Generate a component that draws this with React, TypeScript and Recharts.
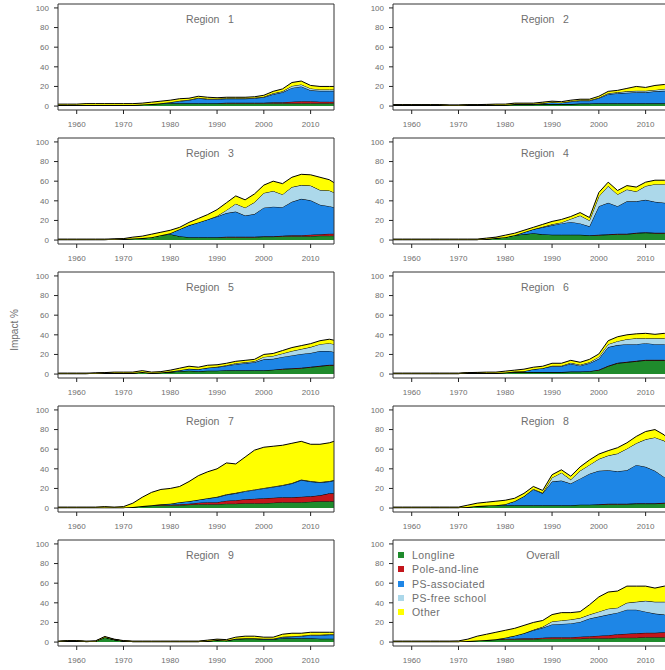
import React from 'react';
import { AreaChart, Area, XAxis, YAxis, ReferenceArea } from 'recharts';

const YEARS = [1956, 1958, 1960, 1962, 1964, 1966, 1968, 1970, 1972, 1974, 1976, 1978, 1980, 1982, 1984, 1986, 1988, 1990, 1992, 1994, 1996, 1998, 2000, 2002, 2004, 2006, 2008, 2010, 2012, 2014, 2015];
const X_TICKS = [1960, 1970, 1980, 1990, 2000, 2010];
const Y_TICKS = [0, 20, 40, 60, 80, 100];
const SERIES_NAMES = ['Longline', 'Pole-and-line', 'PS-associated', 'PS-free school', 'Other'];
const SERIES_COLORS = ['#1f8b2c', '#c3161c', '#1e86e6', '#acd8ea', '#ffff00'];

// Region 1
const r1Longline = [1,1,1,1,1,1,1,1,1,1.5,2,2.5,3,3,3,3,3,3,3,3,3,3,3,3,3,3,3,3,3,3,3];
const r1Pole = [0,0,0,0,0,0,0,0,0,0,0,0,0,0,0,0,0,0,0.5,0.5,0.5,0.5,0.5,1,1,1.5,2,2,1.5,1.5,1.5];
const r1PSA = [0,0,0,0,0,0,0,0,0,0,0,0.5,1,2,3,5,4,4,4,4,4,4.5,5.5,8,10,14,15,11,11,11,11];
const r1PSF = [0,0,0,0,0,0,0,0,0,0,0,0,0,0.5,0.5,0.5,0.5,0.5,0.5,0.5,0.5,0.5,0.5,1,1,2,2,2,1.5,1.5,1.5];
const r1Other = [1,1,1,1.5,1.5,1.5,1.5,1.5,1.5,1.5,2,2,2,2,1.5,1.5,1.5,1,1,1,1,1,1.5,2,2.5,3.5,3.5,3,3,3,3];

// Region 2
const r2Longline = [1,1,1,1,1,1,0.7,0.7,1,1,1,1.2,1.2,1.5,1.5,1.5,2,2,2,2,2.5,2.5,3,3,3,3,3,3,3,3,3];
const r2Pole = [0,0,0,0,0,0,0,0,0,0,0,0,0,0,0,0,0,0,0,0,0,0,0,0,0,0,0,0,0,0,0];
const r2PSA = [0,0,0,0,0,0,0,0,0,0,0,0,0,0.5,0.5,0.5,1,2,1.5,2.5,3,3,5,9,10,10.5,11,11,12,12.5,13];
const r2PSF = [0,0,0,0,0,0,0,0,0,0,0,0,0,0,0,0,0,0,0,0.5,0.5,0.5,0.5,1,1,1.5,1.5,1.5,1.5,2,2];
const r2Other = [0.5,0.5,0.5,0.5,0.5,0.5,0.3,0.3,0.5,0.5,0.7,0.8,0.8,1,1,1,1,1,1,1,1,1,1.5,2,2,3,4.5,3.5,4.5,4.5,4];

// Region 3
const r3Longline = [0.5,0.5,0.5,0.5,0.5,0.5,0.7,1,1.5,2,3,5,6,4,3,3,3,3,3,3,3,3,3.5,3.5,4,4,4,4,4.5,4.5,4.5];
const r3Pole = [0,0,0,0,0,0,0,0,0,0,0,0,0,0,0,0,0,0,0.5,0.5,0.5,0.5,0.5,0.5,0.5,1,1,1.5,1.5,2,2];
const r3PSA = [0,0,0,0,0,0,0,0,0,0,0,0,1,7,12,15,18,21,24,25.5,21.5,23,29,30,29,34,37,35,30,28,27];
const r3PSF = [0,0,0,0,0,0,0,0,0,0,0,0,0,0,0,0,0,0.5,3,8,8,12,15,16,13,15,14,15,15,16,15];
const r3Other = [0.5,0.5,0.5,0.5,0.5,0.5,0.5,0.5,1.5,2,3,3,3,2,3,4,5,6.5,7.5,8,8,8.5,8,10,11,10,11,11,13,11,10];

// Region 4
const r4Longline = [0.5,0.5,0.5,0.5,0.5,0.5,0.5,0.5,0.5,0.5,1,2,3,5,6,7,6,5.5,5.5,5.5,5.5,5,5,5.5,6,6,7,7.5,7,7,7];
const r4Pole = [0,0,0,0,0,0,0,0,0,0,0,0,0,0,0,0,0,0,0,0,0,0,0.5,0.5,0.5,0.5,0.5,0.5,0.5,0.5,0.5];
const r4PSA = [0,0,0,0,0,0,0,0,0,0,0,0,0,0,2,4,7,9.5,11.5,13,11.5,9,29,32,28,33,32,33,31.5,30.5,30];
const r4PSF = [0,0,0,0,0,0,0,0,0,0,0,0,0,0,0,0,0.5,1,1,3,8,6,10,17,12,12,10,14,18,19,18];
const r4Other = [0.5,0.5,0.5,0.5,0.5,0.5,0.5,0.5,0.5,0.5,1,1,2,2,2,2,2.5,3,3,2.5,3,3,4,4,4,4,4.5,4,4,4,4];

// Region 5
const r5Longline = [0.5,0.5,0.5,0.5,0.7,1,1,1,1,2,1,1.5,2,3,3.5,3,3.5,3.5,4,4,4,4,4,4.5,5,5.5,6,7,8,9,9];
const r5Pole = [0,0,0,0,0,0,0,0,0,0,0,0,0,0,0,0,0,0,0,0,0,0,0,0,0.5,0.5,0.5,0.5,0.5,0.5,0.5];
const r5PSA = [0,0,0,0,0,0,0,0,0,0,0,0,0.5,1,2,2,3,3.5,4.5,6,7,8,11,11,12,13,14,14,15,14,13];
const r5PSF = [0,0,0,0,0,0,0,0,0,0,0,0,0,0,0,0,0,0.5,0.5,1,1,1,2.5,3,3.5,4.5,5,6,7,8,8];
const r5Other = [0.5,0.5,0.5,0.5,0.5,0.5,1,1,1,1.5,1,1,1.5,2,2.5,2,2.5,2,2,2,2,2,2.5,2.5,3,3.5,3.5,3.5,3.5,4,4];

// Region 6
const r6Longline = [0.5,0.5,0.5,0.5,0.5,0.5,0.5,0.5,1,1,1,1,1.5,2,2,2,2,2,2,2.5,2.5,3,4,8,11,12,13,14,14,14,13];
const r6Pole = [0,0,0,0,0,0,0,0,0,0,0,0,0,0,0,0,0,0,0,0,0,0,0.5,0.5,0.5,0.5,0.5,0.5,0.5,0.5,0.5];
const r6PSA = [0,0,0,0,0,0,0,0,0,0,0,0,0,0.5,1,3,4,6,6,8,6,8,11,19,18,18,17,17,16,16,15];
const r6PSF = [0,0,0,0,0,0,0,0,0,0,0,0,0,0,0,0,0,0.5,0.5,1,1,1,2,3,4,5,6,5,6,6,6];
const r6Other = [0.5,0.5,0.5,0.5,0.5,0.5,0.5,0.5,0.5,0.7,1,1,1.5,1.5,2,2,2,2.5,2.5,2.5,2.5,3,3,3.5,4.5,4.5,4.5,5,4,5,4];

// Region 7
const r7Longline = [0.5,0.5,0.5,0.5,0.5,0.5,0.5,0.5,1,2,2.5,3,3,3,3.5,4,4,4,4.5,4.5,5,5,5,5.5,6,6,6,6.5,7,7,7];
const r7Pole = [0,0,0,0,0,0,0,0,0,0,0,0.5,0.5,1,1,1.5,2,2,3,3.5,4,4.5,5,5,5,5,5.5,5.5,6,8,8];
const r7PSA = [0,0,0,0,0,0,0,0,0,0,0.5,0.5,1,2,2.5,3,4,5,6,7,8,9,10,11,12,14,17,15,13,12,13];
const r7PSF = [0,0,0,0,0,0,0,0,0,0,0,0,0,0,0,0,0,0.5,0.5,0.5,0.5,0.5,0.5,0.5,0.5,0.5,0.5,0.5,0.5,0.5,0.5];
const r7Other = [0.5,0.5,0.5,0.5,0.5,1,0.5,1,4,9,13,15,15.5,16,20,24.5,27,28.5,32,29.5,34.5,40,41.5,41,40.5,40.5,39,37.5,38.5,39,39.5];

// Region 8
const r8Longline = [0.5,0.5,0.5,0.5,0.5,0.5,0.5,0.5,1,2,2.5,3,3,3,3,3,3,3,3,3,3.5,3.5,3.5,4,4,4,4.5,4.5,4.5,5,5];
const r8Pole = [0,0,0,0,0,0,0,0,0,0,0,0,0,0,0,0,0,0,0,0,0,0,0.5,0.5,0.5,0.5,0.5,0.5,0.5,0.5,0.5];
const r8PSA = [0,0,0,0,0,0,0,0,0,0,0,0,1,4,9,16,12,24,25,22,26.5,31.5,34,34,33,34,39,37,33,26,23];
const r8PSF = [0,0,0,0,0,0,0,0,0,0,0,0,0,0,0,0.5,0.5,4,8,4,8,9,12,15,18,22,22,28,34,37,34];
const r8Other = [0.5,0.5,0.5,0.5,0.5,0.5,0.5,0.5,2,3,3.5,4,4,3,3,2.5,2.5,3,3,3.5,4,5,5,5,6,6,7,8,8,6,6];

// Region 9
const r9Longline = [0.5,1,1,0.5,0.7,5,2.5,1,0.5,0.5,0.5,0.5,0.5,0.5,0.5,0.5,1,2,1.5,3,3.5,3.5,3,3,4,4,4,4,3.5,3.5,3.5];
const r9Pole = [0,0,0,0,0,0,0,0,0,0,0,0,0,0,0,0,0,0,0,0,0,0,0,0,0,0,0,0,0,0,0];
const r9PSA = [0,0,0,0,0,0,0,0,0,0,0,0,0,0,0,0,0,0,0,0.5,0.5,0.5,0.5,0.5,1,1.5,2,3,3.5,4,4];
const r9PSF = [0,0,0,0,0,0,0,0,0,0,0,0,0,0,0,0,0,0,0,0,0,0,0,0,0.5,0.5,0.5,0.5,0.5,0.5,0.5];
const r9Other = [0.5,0.5,0.5,0.5,0.5,0.7,0.5,0.5,0.5,0.5,0.5,0.5,0.5,0.5,0.5,0.5,1,1,1,1.5,2,2,1.5,1.5,2.5,3,2.5,2.5,2.5,2,2];

// Overall
const allLongline = [0.5,0.5,0.5,0.5,0.5,0.5,0.5,0.5,1,1.5,2,2.5,3,3,3,3,3.5,3.5,3.5,3.5,3.5,4,4,4,4.5,4.5,4.5,5,5,5,5];
const allPole = [0,0,0,0,0,0,0,0,0,0,0,0,0.5,0.5,1,1,1,1.5,1.5,1.5,2,2,2.5,3,3.5,4,4.5,4.5,4.5,5,5];
const allPSA = [0,0,0,0,0,0,0,0,0,0,0,0.5,1,3,5,8,10,13,13.5,14,15,18,19.5,21,22,24.5,24,21.5,19.5,18,17];
const allPSF = [0,0,0,0,0,0,0,0,0,0,0,0,0,0,0,0.5,1,3,3.5,4,4,4,5,6,5,7,8,11,12,13,14];
const allOther = [0.5,0.5,0.5,0.5,0.5,0.5,0.5,0.7,2,4.5,6,7,7.5,7.5,8,7.5,6.5,7,8,7,6.5,10,15,17,17,17,16,15,14,16,16];

const PANELS = [
  { title: 'Region   1', series: [r1Longline, r1Pole, r1PSA, r1PSF, r1Other] },
  { title: 'Region   2', series: [r2Longline, r2Pole, r2PSA, r2PSF, r2Other] },
  { title: 'Region   3', series: [r3Longline, r3Pole, r3PSA, r3PSF, r3Other] },
  { title: 'Region   4', series: [r4Longline, r4Pole, r4PSA, r4PSF, r4Other] },
  { title: 'Region   5', series: [r5Longline, r5Pole, r5PSA, r5PSF, r5Other] },
  { title: 'Region   6', series: [r6Longline, r6Pole, r6PSA, r6PSF, r6Other] },
  { title: 'Region   7', series: [r7Longline, r7Pole, r7PSA, r7PSF, r7Other] },
  { title: 'Region   8', series: [r8Longline, r8Pole, r8PSA, r8PSF, r8Other] },
  { title: 'Region   9', series: [r9Longline, r9Pole, r9PSA, r9PSF, r9Other] },
  { title: 'Overall', series: [allLongline, allPole, allPSA, allPSF, allOther] },
];

const FONT = '"Liberation Sans", Arial, Helvetica, sans-serif';
const TEXT_GREY = '#6e6e6e';
const PANEL_W = 335;
const PANEL_H = 134;
const KEYS = ['s0', 's1', 's2', 's3', 's4'];

function Panel({ index }: { index: number }) {
  const p = PANELS[index];
  const row = Math.floor(index / 2);
  const col = index % 2;
  const data = YEARS.map((year, i) => {
    const d: any = { year };
    KEYS.forEach((k, j) => {
      d[k] = p.series[j][i];
    });
    return d;
  });
  const isOverall = index === 9;
  return (
    <div style={{ position: 'absolute', left: col * PANEL_W, top: row * PANEL_H, width: PANEL_W, height: PANEL_H }}>
      <AreaChart width={PANEL_W} height={PANEL_H} data={data} margin={{ top: 4, right: 1, bottom: 0, left: 0 }}>
        <XAxis
          dataKey="year"
          type="number"
          domain={[1956, 2015]}
          ticks={X_TICKS}
          allowDataOverflow
          height={24}
          tickSize={4}
          tickMargin={7}
          axisLine={false}
          tickLine={{ stroke: '#222' }}
          tick={{ fontSize: 8, fill: TEXT_GREY, fontFamily: FONT }}
          interval={0}
        />
        <YAxis
          type="number"
          domain={[-4, 104]}
          ticks={Y_TICKS}
          allowDataOverflow
          width={58}
          tickSize={4}
          tickMargin={5}
          axisLine={false}
          tickLine={{ stroke: '#222' }}
          tick={{ fontSize: 8, fill: TEXT_GREY, fontFamily: FONT }}
          interval={0}
        />
        {KEYS.map((k, j) => (
          <Area
            key={k}
            dataKey={k}
            name={SERIES_NAMES[j]}
            stackId="a"
            type="linear"
            fill={SERIES_COLORS[j]}
            fillOpacity={1}
            stroke="#000"
            strokeWidth={1}
            isAnimationActive={false}
            dot={false}
            activeDot={false}
          />
        ))}
        <ReferenceArea x1={1956} x2={2015} y1={-4} y2={104} fill="none" stroke="#333" strokeWidth={1} ifOverflow="visible" />
      </AreaChart>
      <div
        style={{
          position: 'absolute',
          left: isOverall ? 168 : 170,
          width: 80,
          top: 13,
          textAlign: 'center',
          fontFamily: FONT,
          fontSize: 10.5,
          color: TEXT_GREY,
          whiteSpace: 'pre',
          lineHeight: '12px',
        }}
      >
        {p.title}
      </div>
      {isOverall && (
        <div style={{ position: 'absolute', left: 63, top: 12, fontFamily: FONT, fontSize: 10.5, letterSpacing: 0.4, color: TEXT_GREY }}>
          {SERIES_NAMES.map((n, j) => (
            <div key={n} style={{ height: 14.3, lineHeight: '14px', display: 'flex', alignItems: 'center', whiteSpace: 'nowrap' }}>
              <span style={{ display: 'inline-block', width: 6, height: 6, background: SERIES_COLORS[j], marginRight: 8 }} />
              {n}
            </div>
          ))}
        </div>
      )}
    </div>
  );
}

export default function App() {
  return (
    <div style={{ position: 'absolute', left: 0, top: 0, width: 665, height: 670, overflow: 'hidden', background: '#fff' }}>
      {PANELS.map((_, i) => (
        <Panel key={i} index={i} />
      ))}
      <div
        style={{
          position: 'absolute',
          left: 15 - 30,
          top: 330 - 7,
          width: 60,
          height: 14,
          lineHeight: '14px',
          textAlign: 'center',
          transform: 'rotate(-90deg)',
          fontFamily: FONT,
          fontSize: 10,
          color: TEXT_GREY,
        }}
      >
        Impact %
      </div>
    </div>
  );
}
